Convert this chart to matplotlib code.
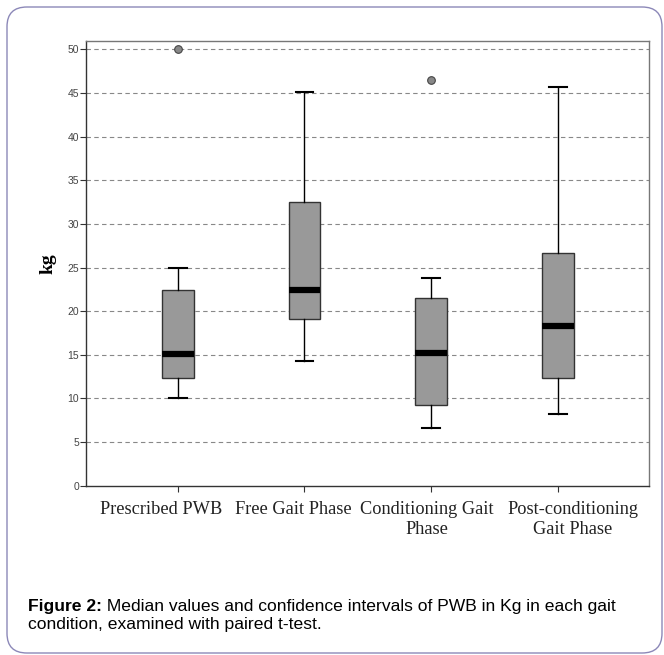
import matplotlib
matplotlib.use("Agg")
import matplotlib.pyplot as plt
import matplotlib.transforms as mtransforms
from matplotlib.patches import FancyBboxPatch

categories = ["Prescribed PWB", "Free Gait Phase", "Conditioning Gait\nPhase", "Post-conditioning\nGait Phase"]
whislo = [10.0, 14.3, 6.6, 8.2]
q1 = [12.4, 19.1, 9.3, 12.4]
med = [15.1, 22.4, 15.2, 18.3]
q3 = [22.4, 32.5, 21.5, 26.7]
whishi = [25.0, 45.1, 23.8, 45.7]
outliers = [[50.0], [], [46.5], []]
yticks = [0, 5, 10, 15, 20, 25, 30, 35, 40, 45, 50]
ylabel = "kg"
caption_bold = "Figure 2:"
caption_rest = " Median values and confidence intervals of PWB in Kg in each gait"
caption_line2 = "condition, examined with paired t-test."

W, H = 664, 655
fig = plt.figure(figsize=(W / 100, H / 100), dpi=100)

# rounded frame
frame = FancyBboxPatch((7 / W, 2 / H), (655 / W), (646 / H),
                       boxstyle="round,pad=0,rounding_size=0.03",
                       transform=fig.transFigure, fill=False,
                       edgecolor="#8c88b8", linewidth=1.0)
fig.patches.append(frame)

ax = fig.add_axes([86 / W, 1 - 485.7 / H, (649 - 86) / W, (485.7 - 40.7) / H])

stats = []
for i in range(len(categories)):
    stats.append(dict(whislo=whislo[i], q1=q1[i], med=med[i], q3=q3[i],
                      whishi=whishi[i], fliers=outliers[i], label=categories[i]))

positions = list(range(1, len(categories) + 1))
ax.bxp(stats, positions=positions, widths=0.25, capwidths=0.14, patch_artist=True,
       boxprops=dict(facecolor="#999999", edgecolor="#333333", linewidth=1.0),
       medianprops=dict(color="black", linewidth=4.5, solid_capstyle="butt"),
       whiskerprops=dict(color="black", linewidth=1.0),
       capprops=dict(color="black", linewidth=1.5),
       flierprops=dict(marker="o", markerfacecolor="#888888", markeredgecolor="#444444",
                       markersize=5.5, markeredgewidth=0.8))

ax.set_xlim(0.276, 4.72)
ax.set_ylim(0, 51)
ax.set_yticks(yticks)
ax.set_yticklabels([str(v) for v in yticks], fontsize=7.5, color="#444444",
                   family="Liberation Sans")
ax.set_xticks(positions)
ax.set_xticklabels(categories, fontsize=13.2, family="Liberation Serif", color="#222222",
                   linespacing=1.2)
ax.tick_params(axis="y", length=4, width=0.8, color="#333333", pad=1)
ax.tick_params(axis="x", length=4, width=0.8, color="#333333", pad=7)
shifts_px = [-17, -11, -4, 15]
for lab, dx in zip(ax.get_xticklabels(), shifts_px):
    lab.set_transform(lab.get_transform() +
                      mtransforms.ScaledTranslation(dx / 100, 0, fig.dpi_scale_trans))
for v in yticks[1:]:
    ax.axhline(v, color="#888888", linestyle=(0, (4, 3)), linewidth=0.8, zorder=0)
for s in ax.spines.values():
    s.set_color("#333333")
    s.set_linewidth(1.0)
ax.spines["right"].set_color("#777777")
ax.spines["top"].set_color("#777777")

ax.set_ylabel(ylabel, fontsize=14, family="Liberation Serif", fontweight="bold",
              labelpad=8)

fs_cap = 12.6
t1 = fig.text(28 / W, 1 - 607 / H, caption_bold, fontsize=fs_cap, fontweight="bold",
              family="Liberation Sans", va="center", ha="left")
fig.canvas.draw()
bb = t1.get_window_extent()
fig.text(bb.x1 / W, 1 - 607 / H, caption_rest, fontsize=fs_cap,
         family="Liberation Sans", va="center", ha="left")
fig.text(28 / W, 1 - 624.5 / H, caption_line2, fontsize=fs_cap,
         family="Liberation Sans", va="center", ha="left")

fig.savefig("out.png", dpi=100)
